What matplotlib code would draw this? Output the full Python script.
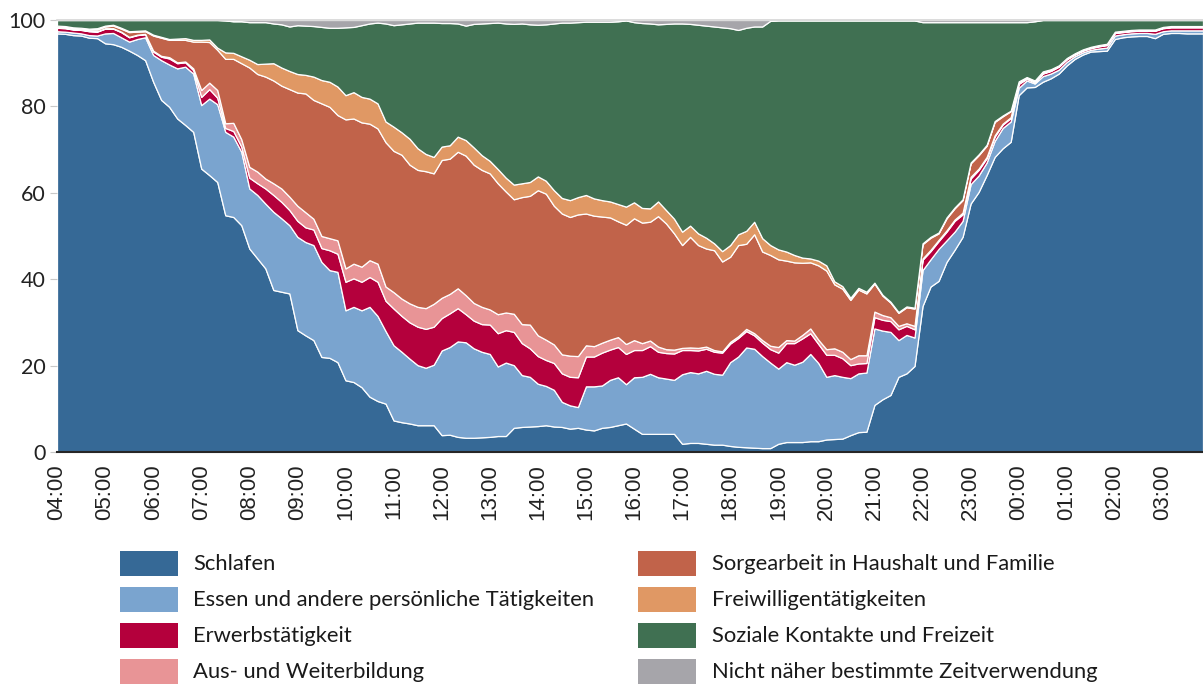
import numpy as np
import matplotlib
matplotlib.use("Agg")
import matplotlib.pyplot as plt
from matplotlib.patches import Rectangle

# Zeitverwendung im Tagesverlauf, 10-Minuten-Schritte ab 04:00 (Anteile in %)
kategorien = [
    "Schlafen",
    "Essen und andere persönliche Tätigkeiten",
    "Erwerbstätigkeit",
    "Aus- und Weiterbildung",
    "Sorgearbeit in Haushalt und Familie",
    "Freiwilligentätigkeiten",
    "Soziale Kontakte und Freizeit",
    "Nicht näher bestimmte Zeitverwendung",
]
farben = ["#366996", "#7AA4CF", "#B4003C", "#E89496",
          "#C1634A", "#E09864", "#407052", "#A6A5AA"]

stunden = ["04:00", "05:00", "06:00", "07:00", "08:00", "09:00", "10:00", "11:00",
           "12:00", "13:00", "14:00", "15:00", "16:00", "17:00", "18:00", "19:00",
           "20:00", "21:00", "22:00", "23:00", "00:00", "01:00", "02:00", "03:00"]

schlafen = [
    96.9, 96.8, 96.5, 96.4, 95.9, 95.8, 94.6, 94.4, 93.8, 92.9, 91.9, 90.7,
    85.7, 81.5, 79.9, 77.2, 75.7, 74.1, 65.6, 64.1, 62.5, 54.8, 54.4, 52.5,
    47.1, 44.8, 42.5, 37.5, 37.1, 36.7, 28.2, 27.0, 25.9, 22.0, 21.8, 20.8,
    16.6, 16.2, 15.0, 12.8, 11.8, 11.2, 7.3, 6.9, 6.6, 6.2, 6.2, 6.2,
    3.9, 4.0, 3.5, 3.3, 3.3, 3.4, 3.5, 3.7, 3.7, 5.6, 5.8, 5.9,
    6.0, 6.2, 5.9, 5.8, 5.4, 5.6, 5.2, 5.0, 5.6, 5.8, 6.2, 6.6,
    5.4, 4.2, 4.2, 4.2, 4.2, 4.2, 1.9, 2.1, 2.1, 1.9, 1.7, 1.7,
    1.4, 1.2, 1.1, 1.0, 0.9, 0.9, 1.9, 2.3, 2.3, 2.3, 2.5, 2.5,
    2.9, 3.0, 3.1, 3.9, 4.6, 4.7, 10.9, 12.2, 13.2, 17.4, 18.2, 19.9,
    33.8, 38.3, 39.6, 44.0, 46.8, 49.8, 57.5, 60.2, 64.1, 68.3, 70.3, 71.8,
    82.6, 84.4, 84.5, 85.7, 86.5, 87.6, 89.5, 91.0, 92.0, 92.7, 92.8, 92.9,
    95.6, 96.0, 96.2, 96.3, 96.3, 95.8, 96.8, 97.0, 97.0, 96.9, 96.9, 96.9,
]
essen = [
    0.5, 0.5, 0.6, 0.5, 0.6, 0.6, 2.3, 2.6, 2.2, 2.1, 3.7, 5.3,
    6.2, 9.2, 9.8, 11.6, 13.5, 13.5, 14.7, 17.7, 18.0, 19.3, 18.6, 17.0,
    13.9, 14.7, 15.0, 18.1, 17.0, 15.8, 21.6, 21.6, 22.0, 22.0, 20.3, 20.9,
    16.2, 17.4, 17.8, 20.8, 19.7, 16.8, 17.4, 16.3, 15.0, 13.9, 13.3, 14.0,
    19.6, 20.3, 22.1, 22.1, 20.7, 19.8, 19.2, 16.1, 17.0, 14.5, 12.0, 11.5,
    9.8, 9.1, 8.5, 5.8, 5.4, 4.8, 10.0, 10.2, 9.8, 10.9, 11.1, 9.1,
    11.9, 13.2, 13.9, 13.1, 12.8, 12.5, 16.1, 16.4, 16.1, 16.9, 16.4, 16.2,
    19.4, 20.9, 23.1, 22.9, 21.3, 19.8, 17.4, 18.5, 17.9, 18.6, 20.2, 18.1,
    14.5, 14.8, 14.3, 13.2, 13.6, 13.7, 17.7, 15.9, 14.6, 8.5, 8.9, 6.6,
    8.3, 6.3, 7.4, 5.0, 4.2, 3.7, 4.5, 3.8, 2.9, 3.7, 4.7, 4.7,
    1.7, 1.6, 0.8, 1.3, 1.1, 0.9, 0.8, 0.6, 0.5, 0.4, 0.6, 0.7,
    0.8, 0.7, 0.7, 0.7, 0.7, 1.0, 0.6, 0.6, 0.6, 0.7, 0.7, 0.7,
]
erwerb = [
    0.8, 0.8, 0.7, 0.8, 0.9, 0.9, 1.1, 1.0, 1.2, 1.0, 0.9, 0.7,
    0.8, 0.8, 1.4, 1.2, 1.0, 0.8, 1.9, 2.2, 1.5, 0.9, 1.3, 1.2,
    2.5, 2.7, 3.5, 3.9, 3.8, 3.5, 3.7, 3.4, 3.6, 3.2, 4.6, 4.2,
    6.6, 6.6, 6.6, 6.9, 7.9, 7.0, 8.5, 8.3, 8.4, 8.9, 9.0, 8.8,
    7.5, 7.8, 7.7, 6.5, 6.4, 6.4, 6.8, 7.7, 7.5, 7.7, 7.4, 6.6,
    6.4, 6.0, 6.2, 6.6, 6.6, 6.9, 6.9, 6.9, 7.6, 7.0, 7.0, 7.0,
    6.3, 6.2, 6.4, 5.9, 5.9, 6.1, 5.6, 5.1, 5.3, 5.1, 5.1, 5.1,
    4.3, 4.3, 3.8, 3.1, 3.1, 3.1, 3.7, 4.4, 5.0, 5.4, 4.8, 4.4,
    5.1, 4.7, 4.3, 3.0, 2.3, 2.2, 2.6, 2.5, 2.5, 2.5, 2.1, 1.9,
    2.4, 1.9, 1.8, 2.0, 2.5, 1.5, 1.3, 1.3, 1.0, 1.0, 0.8, 0.8,
    0.9, 0.4, 0.3, 0.6, 0.6, 0.7, 0.6, 0.4, 0.4, 0.4, 0.5, 0.6,
    0.6, 0.5, 0.5, 0.5, 0.5, 0.7, 0.7, 0.7, 0.7, 0.7, 0.7, 0.7,
]
bildung = [
    0.1, 0.1, 0.1, 0.1, 0.1, 0.1, 0.1, 0.1, 0.1, 0.1, 0.1, 0.1,
    0.2, 0.2, 0.3, 0.2, 0.2, 0.4, 1.6, 1.5, 1.8, 1.1, 1.9, 1.7,
    2.5, 2.7, 2.3, 2.7, 3.1, 3.1, 3.5, 3.5, 2.5, 2.8, 2.8, 3.1,
    3.1, 3.4, 3.5, 3.9, 4.2, 3.3, 3.8, 4.0, 4.4, 4.6, 4.8, 5.3,
    4.7, 4.5, 4.6, 4.4, 4.1, 4.0, 3.5, 4.4, 4.1, 4.2, 4.4, 5.5,
    4.8, 4.7, 4.3, 4.4, 4.9, 4.9, 2.6, 2.4, 2.3, 2.3, 2.3, 2.3,
    2.3, 1.6, 1.3, 1.2, 0.9, 0.9, 0.5, 0.6, 0.6, 0.5, 0.4, 0.3,
    0.4, 0.4, 0.5, 0.5, 0.6, 0.8, 1.3, 0.7, 0.6, 0.8, 1.1, 1.0,
    1.3, 1.5, 1.5, 1.4, 1.9, 1.8, 1.3, 1.1, 0.9, 0.8, 0.6, 0.8,
    0.3, 0.3, 0.3, 0.3, 0.3, 0.4, 0.4, 0.3, 0.3, 0.3, 0.2, 0.2,
    0.2, 0.1, 0.1, 0.1, 0.1, 0.1, 0.1, 0.1, 0.1, 0.1, 0.1, 0.1,
    0.1, 0.1, 0.1, 0.1, 0.1, 0.1, 0.1, 0.1, 0.1, 0.1, 0.1, 0.1,
]
sorgearbeit = [
    0.2, 0.2, 0.2, 0.2, 0.3, 0.4, 0.4, 0.6, 0.7, 1.1, 0.7, 0.6,
    3.5, 4.2, 4.0, 5.2, 5.0, 6.2, 11.2, 9.4, 9.3, 14.9, 14.8, 17.6,
    23.0, 22.6, 23.6, 23.8, 23.8, 24.9, 26.2, 27.5, 27.5, 30.7, 30.4, 29.0,
    34.5, 33.6, 33.4, 31.6, 31.3, 33.4, 32.7, 33.3, 32.1, 31.7, 31.7, 30.2,
    31.9, 31.3, 31.6, 32.3, 32.0, 31.7, 31.5, 30.3, 28.0, 26.5, 29.4, 29.8,
    33.6, 33.8, 32.1, 32.6, 32.1, 32.8, 30.5, 30.2, 29.2, 28.3, 26.8, 27.6,
    28.2, 27.9, 27.5, 30.2, 29.1, 26.9, 23.8, 25.6, 23.8, 22.7, 23.1, 20.8,
    19.7, 21.1, 19.7, 22.9, 20.5, 21.0, 20.3, 18.4, 18.1, 16.7, 15.3, 17.2,
    18.2, 14.8, 14.6, 13.7, 15.2, 14.3, 6.5, 4.5, 3.4, 3.0, 3.7, 4.0,
    3.3, 2.8, 1.5, 2.8, 2.6, 2.9, 3.1, 3.1, 2.6, 3.1, 1.7, 1.4,
    0.3, 0.2, 0.2, 0.3, 0.2, 0.1, 0.1, 0.1, 0.1, 0.1, 0.1, 0.1,
    0.1, 0.1, 0.1, 0.1, 0.1, 0.1, 0.1, 0.1, 0.1, 0.1, 0.1, 0.1,
]
freiwillig = [
    0.2, 0.2, 0.2, 0.2, 0.2, 0.3, 0.2, 0.2, 0.2, 0.2, 0.2, 0.2,
    0.2, 0.2, 0.2, 0.3, 0.4, 0.4, 0.4, 0.6, 0.5, 1.5, 1.4, 1.6,
    1.8, 2.3, 3.0, 4.0, 4.2, 4.2, 4.3, 4.3, 5.4, 5.4, 5.8, 6.6,
    5.6, 6.1, 5.9, 5.8, 5.8, 4.8, 5.6, 5.2, 6.0, 5.0, 4.0, 3.8,
    3.1, 3.1, 3.5, 3.6, 4.0, 3.4, 2.9, 3.3, 3.2, 3.4, 3.2, 3.2,
    3.2, 3.0, 3.6, 3.6, 3.9, 4.0, 4.3, 4.0, 3.8, 3.7, 4.0, 4.2,
    3.7, 3.4, 3.1, 3.4, 3.1, 3.4, 3.1, 2.6, 2.7, 2.5, 1.6, 2.4,
    2.7, 2.5, 3.0, 2.9, 3.1, 2.3, 2.3, 2.1, 1.7, 1.2, 0.9, 1.1,
    1.2, 0.7, 0.6, 0.5, 0.4, 0.4, 0.2, 0.2, 0.2, 0.2, 0.2, 0.2,
    0.2, 0.2, 0.2, 0.2, 0.2, 0.2, 0.2, 0.2, 0.2, 0.2, 0.2, 0.1,
    0.1, 0.1, 0.1, 0.1, 0.1, 0.1, 0.1, 0.1, 0.1, 0.1, 0.1, 0.1,
    0.1, 0.1, 0.1, 0.1, 0.1, 0.1, 0.1, 0.1, 0.1, 0.1, 0.1, 0.1,
]
freizeit = [
    1.3, 1.4, 1.7, 1.8, 2.0, 1.9, 1.3, 1.1, 1.8, 2.6, 2.5, 2.4,
    3.4, 3.9, 4.4, 4.3, 4.2, 4.6, 4.6, 4.5, 6.4, 7.4, 7.3, 8.1,
    8.7, 9.7, 9.6, 9.2, 10.0, 10.3, 11.3, 11.4, 11.7, 12.3, 12.5, 13.6,
    15.7, 15.1, 16.6, 17.4, 18.7, 22.7, 23.5, 25.0, 26.7, 29.1, 30.4, 31.1,
    28.6, 28.3, 26.2, 26.5, 28.6, 30.5, 31.9, 33.9, 35.7, 37.2, 37.0, 36.5,
    35.1, 36.2, 38.6, 40.6, 41.1, 40.5, 40.1, 40.9, 41.3, 41.6, 42.3, 43.1,
    41.7, 42.8, 42.8, 41.0, 43.1, 45.2, 48.2, 46.7, 48.3, 49.1, 50.2, 51.8,
    50.2, 47.3, 47.0, 45.2, 49.0, 51.9, 53.0, 53.5, 54.3, 54.9, 55.1, 55.6,
    56.7, 60.4, 61.5, 64.2, 61.9, 62.8, 60.7, 63.5, 65.1, 67.5, 66.2, 66.5,
    51.2, 49.7, 48.7, 45.2, 42.9, 41.0, 32.5, 30.6, 28.4, 22.9, 21.6, 20.5,
    13.7, 12.7, 13.7, 11.9, 11.4, 10.5, 8.8, 7.7, 6.8, 6.2, 5.8, 5.5,
    2.7, 2.5, 2.3, 2.2, 2.2, 2.2, 1.6, 1.4, 1.4, 1.4, 1.4, 1.4,
]
unbestimmt = [
    0.0, 0.0, 0.0, 0.0, 0.0, 0.0, 0.0, 0.0, 0.0, 0.0, 0.0, 0.0,
    0.0, 0.0, 0.0, 0.0, 0.0, 0.0, 0.0, 0.0, 0.0, 0.1, 0.3, 0.3,
    0.5, 0.5, 0.5, 0.8, 1.0, 1.5, 1.2, 1.3, 1.4, 1.6, 1.8, 1.8,
    1.7, 1.6, 1.2, 0.8, 0.6, 0.8, 1.2, 1.0, 0.8, 0.6, 0.6, 0.6,
    0.7, 0.7, 0.8, 1.3, 0.9, 0.8, 0.7, 0.6, 0.8, 0.9, 0.8, 1.0,
    1.1, 1.0, 0.8, 0.6, 0.6, 0.5, 0.4, 0.4, 0.4, 0.4, 0.3, 0.1,
    0.5, 0.7, 0.8, 1.0, 0.9, 0.8, 0.8, 0.9, 1.1, 1.3, 1.5, 1.7,
    1.9, 2.3, 1.8, 1.5, 1.5, 0.2, 0.1, 0.1, 0.1, 0.1, 0.1, 0.1,
    0.1, 0.1, 0.1, 0.1, 0.1, 0.1, 0.1, 0.1, 0.1, 0.1, 0.1, 0.1,
    0.5, 0.5, 0.5, 0.5, 0.5, 0.5, 0.5, 0.5, 0.5, 0.5, 0.5, 0.5,
    0.5, 0.5, 0.3, 0.0, 0.0, 0.0, 0.0, 0.0, 0.0, 0.0, 0.0, 0.0,
    0.0, 0.0, 0.0, 0.0, 0.0, 0.0, 0.0, 0.0, 0.0, 0.0, 0.0, 0.0,
]

reihen = [schlafen, essen, erwerb, bildung, sorgearbeit, freiwillig, freizeit, unbestimmt]

W, H = 1203, 684
fig = plt.figure(figsize=(W / 100, H / 100), dpi=100)
ax = fig.add_axes([57 / W, 1 - 452 / H, (W - 57) / W, (452 - 20) / H])

x = np.arange(len(schlafen))
ax.stackplot(x, *reihen, colors=farben, edgecolor="white", linewidth=0.9)

ax.set_xlim(0, len(schlafen) - 1)
ax.set_ylim(0, 100)

# Achsen
ax.set_xticks(np.arange(0, len(schlafen), 6))
ax.set_xticklabels(stunden, rotation=90, family="Liberation Sans", fontsize=16, color="#222222")
ax.set_yticks([0, 20, 40, 60, 80, 100])
ax.set_yticklabels(["0", "20", "40", "60", "80", "100"], family="Lato", fontsize=15.5, color="#222222")
ax.tick_params(axis="x", length=0, pad=9)
ax.tick_params(axis="y", length=5, color="#c8c8c8", pad=3)

for s in ["left", "right"]:
    ax.spines[s].set_visible(False)
ax.spines["top"].set_color("#d6d6d6")
ax.spines["top"].set_linewidth(1.2)
ax.spines["bottom"].set_color("#262626")
ax.spines["bottom"].set_linewidth(1.5)

# Legende (zwei Spalten)
spalten_x = [(120, 193), (638, 712)]
zeilen_y = [563, 599, 635, 671]
for k, (name, farbe) in enumerate(zip(kategorien, farben)):
    px, tx = spalten_x[k // 4]
    cy = zeilen_y[k % 4]
    rect = Rectangle((px / W, 1 - (cy + 12.5) / H), 58 / W, 25 / H,
                     transform=fig.transFigure, facecolor=farbe, edgecolor="none")
    fig.add_artist(rect)
    fig.text(tx / W, 1 - (cy + 1) / H, name, ha="left", va="center",
             fontsize=15.8, family=["Lato", "DejaVu Sans"], color="#1a1a1a")

fig.savefig("out.png", dpi=100)
